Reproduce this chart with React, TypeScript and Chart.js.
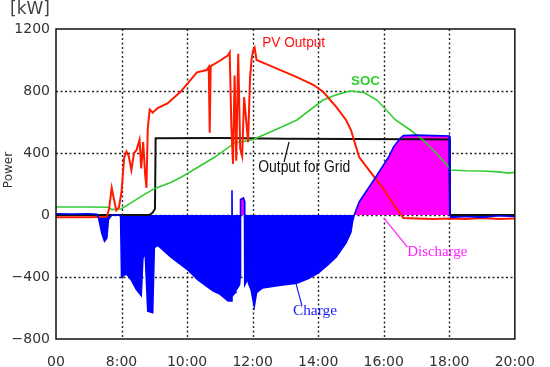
import React, { useEffect, useRef } from "react";
import { Chart, registerables } from "chart.js";

Chart.register(...registerables);

// ---- data (hours of day, kW) ----
const xTickValues = [6, 8, 10, 12, 14, 16, 18, 20];
const xTickLabels = ["00", "8:00", "10:00", "12:00", "14:00", "16:00", "18:00", "20:00"];
const yTickValues = [1200, 800, 400, 0, -400, -800];
const yTickLabels = ["1200", "800", "400", "0", "\u2212400", "\u2212800"];

const pvTimes = [6.0, 7.0, 7.55, 7.62, 7.7, 7.76, 7.84, 7.92, 8.0, 8.08, 8.15, 8.22, 8.3, 8.38, 8.46, 8.55, 8.6, 8.66, 8.72, 8.76, 8.8, 8.86, 8.95, 9.1, 9.4, 9.8, 10.3, 10.6, 10.66, 10.69, 10.72, 11.0, 11.25, 11.3, 11.35, 11.4, 11.45, 11.5, 11.56, 11.62, 11.68, 11.74, 11.8, 11.86, 11.92, 11.97, 12.02, 12.06, 12.12, 12.4, 12.85, 13.35, 13.85, 14.15, 14.55, 14.85, 15.0, 15.25, 15.55, 15.97, 16.36, 16.6, 17.0, 17.5, 18.0, 18.5, 19.0, 19.5, 20.0];
const pvValues = [-15, -14, -12, 40, 175, 110, 30, 50, 150, 370, 410, 380, 290, 400, 420, 485, 300, 470, 260, 175, 560, 680, 660, 690, 720, 795, 920, 935, 955, 530, 960, 995, 1030, 1050, 580, 330, 900, 350, 1040, 430, 380, 760, 620, 470, 880, 1010, 1065, 1080, 1000, 975, 935, 890, 840, 795, 697, 613, 548, 374, 290, 174, 52, -20, -22, -25, -22, -25, -20, -25, -22];

const socTimes = [6.0, 7.0, 7.6, 7.7, 8.0, 8.3, 8.6, 9.0, 9.5, 9.83, 10.34, 10.85, 11.45, 12.0, 12.85, 13.35, 14.15, 14.55, 14.86, 15.0, 15.4, 15.8, 16.36, 16.8, 17.2, 17.6, 18.0, 18.03, 18.5, 19.0, 19.5, 19.8, 20.0];
const socValues = [52, 52, 50, 35, 40, 80, 120, 170, 210, 245, 310, 374, 465, 485, 565, 613, 742, 775, 793, 800, 790, 740, 613, 550, 484, 400, 305, 290, 285, 284, 278, 270, 275];

const gridTimes = [6.0, 8.85, 8.95, 9.02, 9.04, 11.0, 13.0, 15.0, 17.0, 18.0, 18.02, 20.0];
const gridValues = [0, 0, 15, 40, 495, 497, 492, 490, 488, 487, 0, 0];

const batteryTimes = [6.0, 6.5, 7.0, 7.25, 7.3, 7.4, 7.48, 7.55, 7.6, 7.7, 7.9, 7.97, 8.0, 8.15, 8.3, 8.45, 8.6, 8.65, 8.72, 8.8, 8.95, 9.0, 9.1, 9.5, 10.0, 10.34, 10.8, 11.0, 11.25, 11.35, 11.37, 11.39, 11.47, 11.49, 11.51, 11.6, 11.62, 11.63, 11.72, 11.75, 11.76, 11.83, 11.85, 11.87, 11.95, 12.05, 12.12, 12.3, 12.8, 13.35, 13.7, 14.0, 14.3, 14.55, 14.85, 15.0, 15.05, 15.1, 15.25, 15.76, 16.15, 16.3, 16.51, 16.6, 17.0, 17.5, 18.0, 18.02, 18.05, 18.5, 19.0, 19.5, 20.0];
const batteryValues = [8, 6, 8, 5, -20, -120, -170, -150, -30, 0, 0, -5, -400, -380, -420, -480, -520, -280, -240, -620, -630, -210, -195, -270, -350, -420, -490, -510, -555, -555, 160, -520, -500, -120, -480, -450, -400, 100, 110, 90, -450, -420, -250, -440, -480, -590, -500, -470, -455, -440, -410, -375, -320, -270, -180, -110, -40, 0, 84, 245, 374, 439, 497, 512, 515, 512, 510, 0, -15, -10, -15, -5, -10];

const toPoints = (xs: number[], ys: number[]) => xs.map((x, i) => ({ x, y: ys[i] }));

// ---- annotation texts ----
const labelTexts = [
  { text: "PV Output", x: 12.29, y: 1110, w: 63, color: "#ff1010", font: '14px "Liberation Sans"' },
  { text: "SOC", x: 15.0, y: 865, w: 29, color: "#33cc33", font: 'bold 13px "Liberation Sans"' },
  { text: "Output for Grid", x: 12.17, y: 303, w: 92, color: "#111111", font: '16px "Liberation Sans"' },
  { text: "Discharge", x: 16.72, y: -239, w: 60, color: "#ff20ff", font: '15px "Liberation Serif"' },
  { text: "Charge", x: 13.23, y: -619, w: 44, color: "#1a1aff", font: '15px "Liberation Serif"' },
];
const pointerLines = [
  { x1: 12.96, y1: 342, x2: 13.11, y2: 471, color: "#111111" },
  { x1: 16.0, y1: -19, x2: 16.72, y2: -206, color: "#ff20ff" },
  { x1: 13.32, y1: -439, x2: 13.5, y2: -581, color: "#1a1aff" },
];

const gridPlugin = {
  id: "dottedGrid",
  beforeDatasetsDraw(chart: any) {
    const { ctx, chartArea, scales } = chart;
    ctx.save();
    ctx.strokeStyle = "#222";
    ctx.lineWidth = 1.4;
    ctx.setLineDash([2, 2.5]);
    xTickValues.forEach((v) => {
      const px = Math.round(scales.x.getPixelForValue(v)) + 0.5;
      if (px <= chartArea.left + 1 || px >= chartArea.right - 1) return;
      ctx.beginPath();
      ctx.moveTo(px, chartArea.top);
      ctx.lineTo(px, chartArea.bottom);
      ctx.stroke();
    });
    yTickValues.forEach((v) => {
      const py = Math.round(scales.y.getPixelForValue(v)) + 0.5;
      if (py <= chartArea.top + 1 || py >= chartArea.bottom - 1) return;
      ctx.beginPath();
      ctx.moveTo(chartArea.left, py);
      ctx.lineTo(chartArea.right, py);
      ctx.stroke();
    });
    ctx.restore();
  },
};

const decorPlugin = {
  id: "decor",
  afterDatasetsDraw(chart: any) {
    const { ctx, chartArea, scales } = chart;
    const xs = scales.x;
    const ys = scales.y;
    ctx.save();
    ctx.strokeStyle = "#111";
    ctx.lineWidth = 1.5;
    ctx.strokeRect(chartArea.left, chartArea.top, chartArea.right - chartArea.left, chartArea.bottom - chartArea.top);
    pointerLines.forEach((p) => {
      ctx.strokeStyle = p.color;
      ctx.lineWidth = 1.2;
      ctx.beginPath();
      ctx.moveTo(xs.getPixelForValue(p.x1), ys.getPixelForValue(p.y1));
      ctx.lineTo(xs.getPixelForValue(p.x2), ys.getPixelForValue(p.y2));
      ctx.stroke();
    });
    labelTexts.forEach((l) => {
      ctx.font = l.font;
      ctx.fillStyle = l.color;
      ctx.textBaseline = "middle";
      ctx.textAlign = "left";
      const m = ctx.measureText(l.text).width;
      const s = l.w / m;
      ctx.save();
      ctx.translate(xs.getPixelForValue(l.x), ys.getPixelForValue(l.y));
      ctx.scale(s, 1);
      ctx.fillText(l.text, 0, 0);
      ctx.restore();
    });
    ctx.restore();
  },
  afterDraw(chart: any) {
    const { ctx } = chart;
    ctx.save();
    ctx.fillStyle = "#444";
    ctx.font = '17px "DejaVu Sans"';
    ctx.textBaseline = "middle";
    ctx.textAlign = "left";
    ctx.fillText("[kW]", 10, 10);
    ctx.font = '12px "DejaVu Sans"';
    ctx.fillStyle = "#333";
    ctx.translate(9, 170);
    ctx.rotate(-Math.PI / 2);
    ctx.textAlign = "center";
    ctx.fillText("Power", 0, 0);
    ctx.restore();
  },
};

export default function App() {
  const ref = useRef<HTMLCanvasElement | null>(null);
  useEffect(() => {
    document.body.style.margin = "0";
    const canvas = ref.current;
    if (!canvas) return;
    const chart = new Chart(canvas, {
      type: "line",
      data: {
        datasets: [
          {
            label: "Charge/Discharge fill",
            data: toPoints(batteryTimes, batteryValues),
            borderWidth: 0,
            borderColor: "rgba(0,0,0,0)",
            pointRadius: 0,
            fill: { target: { value: 0 }, above: "#ff00ff", below: "#0000ff" },
            order: 5,
          },
          {
            label: "Output for Grid",
            data: toPoints(gridTimes, gridValues),
            borderColor: "#111111",
            borderWidth: 2,
            pointRadius: 0,
            fill: false,
            order: 4,
          },
          {
            label: "SOC",
            data: toPoints(socTimes, socValues),
            borderColor: "#33cc33",
            borderWidth: 1.6,
            pointRadius: 0,
            fill: false,
            order: 3,
          },
          {
            label: "PV Output",
            data: toPoints(pvTimes, pvValues),
            borderColor: "#ff1a00",
            borderWidth: 2,
            pointRadius: 0,
            fill: false,
            order: 2,
          },
          {
            label: "Charge/Discharge",
            data: toPoints(batteryTimes, batteryValues),
            borderColor: "#0000ff",
            borderWidth: 1.6,
            pointRadius: 0,
            fill: false,
            order: 1,
          },
        ],
      },
      options: {
        responsive: false,
        animation: false,
        devicePixelRatio: 1,
        layout: { padding: { left: 0, right: 29, top: 29, bottom: 0 } },
        plugins: { legend: { display: false }, tooltip: { enabled: false }, title: { display: false } },
        scales: {
          x: {
            type: "linear",
            min: 6,
            max: 20,
            afterBuildTicks: (scale: any) => {
              scale.ticks = xTickValues.map((v) => ({ value: v }));
            },
            afterFit: (scale: any) => {
              scale.height = 28;
            },
            ticks: {
              autoSkip: false,
              maxRotation: 0,
              padding: 15,
              color: "#333",
              font: { family: "DejaVu Sans", size: 14 },
              callback: (v: any) => {
                const i = xTickValues.indexOf(Number(v));
                return i >= 0 ? xTickLabels[i] : "";
              },
            },
            grid: { display: false, drawTicks: false },
            border: { display: false },
          },
          y: {
            type: "linear",
            min: -800,
            max: 1200,
            afterBuildTicks: (scale: any) => {
              scale.ticks = yTickValues.map((v) => ({ value: v }));
            },
            afterFit: (scale: any) => {
              scale.width = 56;
            },
            ticks: {
              autoSkip: false,
              padding: 6,
              color: "#333",
              font: { family: "DejaVu Sans", size: 14 },
              callback: (v: any) => {
                const i = yTickValues.indexOf(Number(v));
                return i >= 0 ? yTickLabels[i] : "";
              },
            },
            grid: { display: false, drawTicks: false },
            border: { display: false },
          },
        },
      },
      plugins: [gridPlugin, decorPlugin],
    } as any);
    return () => chart.destroy();
  }, []);
  return (
    <div style={{ width: 550, height: 367, background: "#fff" }}>
      <canvas ref={ref} width={550} height={367} style={{ display: "block" }} />
    </div>
  );
}
